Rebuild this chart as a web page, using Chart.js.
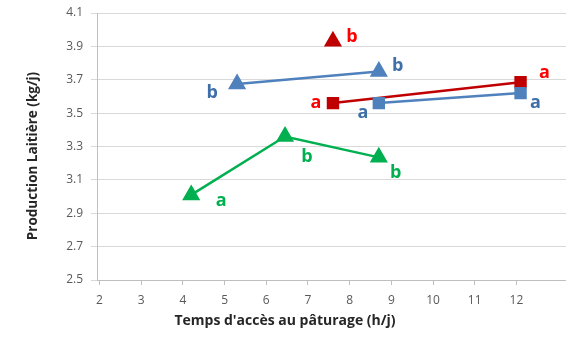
<!DOCTYPE html>
<html>
<head>
<meta charset="utf-8">
<script src="https://cdn.jsdelivr.net/npm/chart.js@4/dist/chart.umd.min.js"></script>
<style>
  html, body { margin: 0; padding: 0; background: #fff; }
  #wrap { width: 566px; height: 337px; }
</style>
</head>
<body>
<div id="wrap"><canvas id="chart" width="566" height="337"></canvas></div>
<script>
// values: x = temps d'accès (h/j), y = production (kg/j)
var RED_TRI_X = [7.6];
var RED_TRI_Y = [3.93];
var RED_TRI_TXT = ["b"];

var BLUE_TRI_X = [5.3, 8.7];
var BLUE_TRI_Y = [3.675, 3.75];
var BLUE_TRI_TXT = ["b", "b"];

var RED_SQ_X = [7.6, 12.1];
var RED_SQ_Y = [3.56, 3.685];
var RED_SQ_TXT = ["a", "a"];

var BLUE_SQ_X = [8.7, 12.1];
var BLUE_SQ_Y = [3.56, 3.62];
var BLUE_SQ_TXT = ["a", "a"];

var GREEN_TRI_X = [4.2, 6.45, 8.7];
var GREEN_TRI_Y = [3.01, 3.36, 3.235];
var GREEN_TRI_TXT = ["a", "b", "b"];

var X_TICKS = [2, 3, 4, 5, 6, 7, 8, 9, 10, 11, 12];
var Y_TICKS = [2.5, 2.7, 2.9, 3.1, 3.3, 3.5, 3.7, 3.9, 4.1];
var X_TITLE = "Temps d'accès au pâturage (h/j)";
var Y_TITLE = "Production Laitière (kg/j)";

// where each letter sits relative to its point (px)
var OFF_RED_TRI = [[19, -4]];
var OFF_BLUE_TRI = [[-25, 9], [19, -6]];
var OFF_RED_SQ = [[-17, 0], [24, -9]];
var OFF_BLUE_SQ = [[-16, 10], [15, 10]];
var OFF_GREEN_TRI = [[30, 6], [22, 20], [17, 16]];

var RED = '#C00000';
var BLUE = '#4F81BD';
var GREEN = '#00B050';

function pts(xs, ys) {
    return xs.map(function (x, i) { return {x: x, y: ys[i]}; });
}

function makeSet(xs, ys, txt, offs, color, txtColor, shape) {
    return {
        data: pts(xs, ys),
        borderColor: color,
        backgroundColor: color,
        borderWidth: 2.5,
        pointStyle: shape,
        pointRadius: shape == 'triangle' ? 8 : 7,
        pointHoverRadius: 8,
        showLine: xs.length > 1,
        tension: 0,
        letters: txt,
        letterOffsets: offs,
        letterColor: txtColor
    };
}

var letterPlugin = {
    id: 'letters',
    afterDatasetsDraw(chart) {
        var ctx = chart.ctx;
        ctx.save();
        ctx.font = 'bold 18px "Open Sans", sans-serif';
        ctx.textAlign = 'center';
        ctx.textBaseline = 'middle';
        chart.data.datasets.forEach(function (ds, di) {
            var meta = chart.getDatasetMeta(di);
            meta.data.forEach(function (el, i) {
                var o = ds.letterOffsets[i];
                ctx.fillStyle = ds.letterColor;
                ctx.fillText(ds.letters[i], el.x + o[0], el.y + o[1]);
            });
        });
        ctx.restore();
    }
};

// axis titles drawn by hand, the original sits them off-centre
var titlePlugin = {
    id: 'titles',
    afterDraw(chart) {
        var ctx = chart.ctx;
        ctx.save();
        ctx.fillStyle = '#262626';
        ctx.textAlign = 'center';
        ctx.textBaseline = 'middle';
        ctx.font = 'bold 14px "Open Sans", sans-serif';
        ctx.fillText(X_TITLE, 285, 321);
        ctx.translate(33, 156);
        ctx.rotate(-Math.PI / 2);
        ctx.font = 'bold 13.5px "Open Sans", sans-serif';
        ctx.fillText(Y_TITLE, 0, 0);
        ctx.restore();
    }
};

new Chart(document.getElementById('chart'), {
    type: 'scatter',
    data: {
        datasets: [
            makeSet(GREEN_TRI_X, GREEN_TRI_Y, GREEN_TRI_TXT, OFF_GREEN_TRI, GREEN, GREEN, 'triangle'),
            makeSet(BLUE_SQ_X, BLUE_SQ_Y, BLUE_SQ_TXT, OFF_BLUE_SQ, BLUE, '#3E6FA8', 'rect'),
            makeSet(RED_SQ_X, RED_SQ_Y, RED_SQ_TXT, OFF_RED_SQ, RED, '#FF0000', 'rect'),
            makeSet(BLUE_TRI_X, BLUE_TRI_Y, BLUE_TRI_TXT, OFF_BLUE_TRI, BLUE, '#3E6FA8', 'triangle'),
            makeSet(RED_TRI_X, RED_TRI_Y, RED_TRI_TXT, OFF_RED_TRI, RED, '#FF0000', 'triangle')
        ]
    },
    options: {
        responsive: false,
        animation: false,
        layout: { autoPadding: false, padding: { top: 13, right: 0, left: 0, bottom: 0 } },
        plugins: {
            legend: { display: false },
            tooltip: { enabled: false }
        },
        scales: {
            x: {
                type: 'linear',
                min: 1.94,
                max: 13.19,
                afterBuildTicks: function (scale) {
                    scale.ticks = X_TICKS.map(function (v) { return {value: v}; });
                },
                afterFit: function (scale) {
                    scale.height = 57;
                    scale.paddingLeft = 0;
                    scale.paddingRight = 0;
                },
                grid: { drawOnChartArea: false, color: '#BFBFBF', tickLength: 5 },
                border: { color: '#BFBFBF', width: 1 },
                ticks: { color: '#595959', font: { family: 'Open Sans', size: 12 }, padding: 8, maxRotation: 0 }
            },
            y: {
                min: 2.5,
                max: 4.1,
                afterBuildTicks: function (scale) {
                    scale.ticks = Y_TICKS.map(function (v) { return {value: v}; });
                },
                afterFit: function (scale) {
                    scale.width = 97;
                    scale.paddingTop = 0;
                    scale.paddingBottom = 0;
                },
                grid: { color: '#D9D9D9', tickLength: 6, lineWidth: 1 },
                border: { color: '#BFBFBF', width: 1 },
                ticks: {
                    color: '#595959',
                    font: { family: 'Open Sans', size: 12 },
                    padding: 8,
                    callback: function (v) { return v.toFixed(1); }
                }
            }
        }
    },
    plugins: [letterPlugin, titlePlugin]
});
</script>
</body>
</html>
